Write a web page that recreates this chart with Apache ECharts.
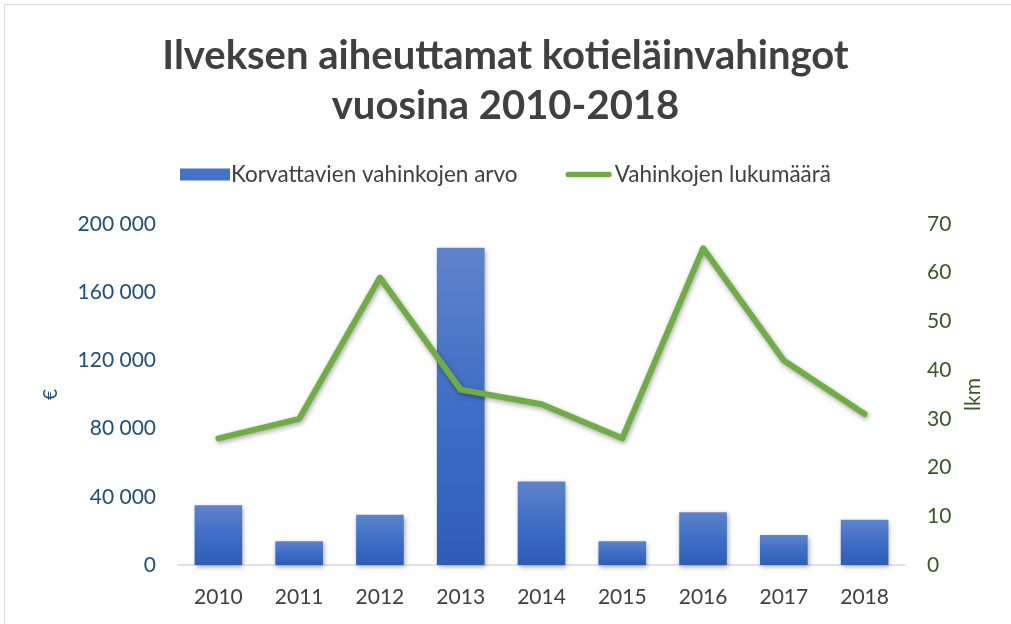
<!DOCTYPE html>
<html><head><meta charset="utf-8">
<script src="https://cdn.jsdelivr.net/npm/echarts@6/dist/echarts.min.js"></script>
<style>
html,body{margin:0;padding:0;background:#fff;}
#frame{position:absolute;left:4px;top:4px;width:1030px;height:640px;border:1px solid #d9d9d9;box-sizing:border-box;}
#c{position:absolute;left:0;top:0;width:1011px;height:624px;}
</style></head>
<body>
<div id="frame"></div>
<div id="c"></div>
<script>
const categories = ['2010','2011','2012','2013','2014','2015','2016','2017','2018'];
const damageValue = [35000, 14000, 29500, 186000, 49000, 14000, 31000, 17600, 26500];
const damageCount = [26, 30, 59, 36, 33, 26, 65, 42, 31];
const leftTicks = [0, 40000, 80000, 120000, 160000, 200000];
const rightTicks = [0, 10, 20, 30, 40, 50, 60, 70];

const chart = echarts.init(document.getElementById('c'));
const fmt = v => String(v).replace(/\B(?=(\d{3})+(?!\d))/g, ' ');
chart.setOption({
  animation: false,
  textStyle: {fontFamily: 'Lato'},
  title: {
    text: 'Ilveksen aiheuttamat kotieläinvahingot\nvuosina 2010-2018',
    left: 'center', top: 26,
    textStyle: {fontFamily: 'Lato', fontWeight: 'bold', fontSize: 40, color: '#404040', lineHeight: 50}
  },
  legend: {
    top: 158, left: 'center', itemGap: 48,
    textStyle: {fontFamily: 'Lato', fontSize: 22.5, color: '#404040', padding: [0,0,0,-4]},
    data: [
      {name: 'Korvattavien vahinkojen arvo', icon: 'rect', itemStyle: {color: '#4472C4'}},
      {name: 'Vahinkojen lukumäärä',
       icon: 'path://M0,0L50,0L50,0.05L0,0.05Z M3,3.5L47,3.5A3,3 0 0 1 47,9.5L3,9.5A3,3 0 0 1 3,3.5Z M0,12.95L50,12.95L50,13L0,13Z',
       itemStyle: {color: '#70AD47'}}
    ],
    itemWidth: 50, itemHeight: 12
  },
  grid: {left: 178, right: 106, top: 224, bottom: 59},
  xAxis: {
    type: 'category', data: categories,
    axisLine: {lineStyle: {color: '#d9d9d9', width: 1.5}},
    axisTick: {show: false},
    axisLabel: {fontFamily: 'Lato', fontSize: 21, color: '#404040', margin: 22}
  },
  yAxis: [
    {
      type: 'value', min: 0, max: 200000, interval: 40000,
      name: '€', nameLocation: 'middle', nameGap: 118, nameRotate: 90,
      nameTextStyle: {fontFamily: 'Lato', fontSize: 19, color: '#1F4E79'},
      axisLine: {show: false}, axisTick: {show: false}, splitLine: {show: false},
      axisLabel: {fontFamily: 'Lato', fontSize: 21, color: '#1F4E79', margin: 22, formatter: fmt}
    },
    {
      type: 'value', min: 0, max: 70, interval: 10,
      name: 'lkm', nameLocation: 'middle', nameGap: 56, nameRotate: 90,
      nameTextStyle: {fontFamily: 'Lato', fontSize: 21, color: '#385723'},
      axisLine: {show: false}, axisTick: {show: false}, splitLine: {show: false},
      axisLabel: {fontFamily: 'Lato', fontSize: 21, color: '#385723', margin: 22}
    }
  ],
  series: [
    {
      name: 'Korvattavien vahinkojen arvo', type: 'bar', data: damageValue, yAxisIndex: 0,
      barWidth: '59%',
      itemStyle: {
        color: new echarts.graphic.LinearGradient(0,0,0,1,[
          {offset: 0, color: '#5F83CB'}, {offset: 0.5, color: '#3F6EC6'}, {offset: 1, color: '#2F5DB6'}
        ]),
        shadowColor: 'rgba(0,0,0,0.35)', shadowBlur: 5, shadowOffsetX: 1, shadowOffsetY: 2
      }
    },
    {
      name: 'Vahinkojen lukumäärä', type: 'line', data: damageCount, yAxisIndex: 1,
      symbol: 'none', color: '#70AD47',
      lineStyle: {color: '#70AD47', width: 6, cap: 'round', join: 'round',
        shadowColor: 'rgba(0,0,0,0.35)', shadowBlur: 5, shadowOffsetX: 1, shadowOffsetY: 2}
    }
  ]
});
</script>
</body></html>
